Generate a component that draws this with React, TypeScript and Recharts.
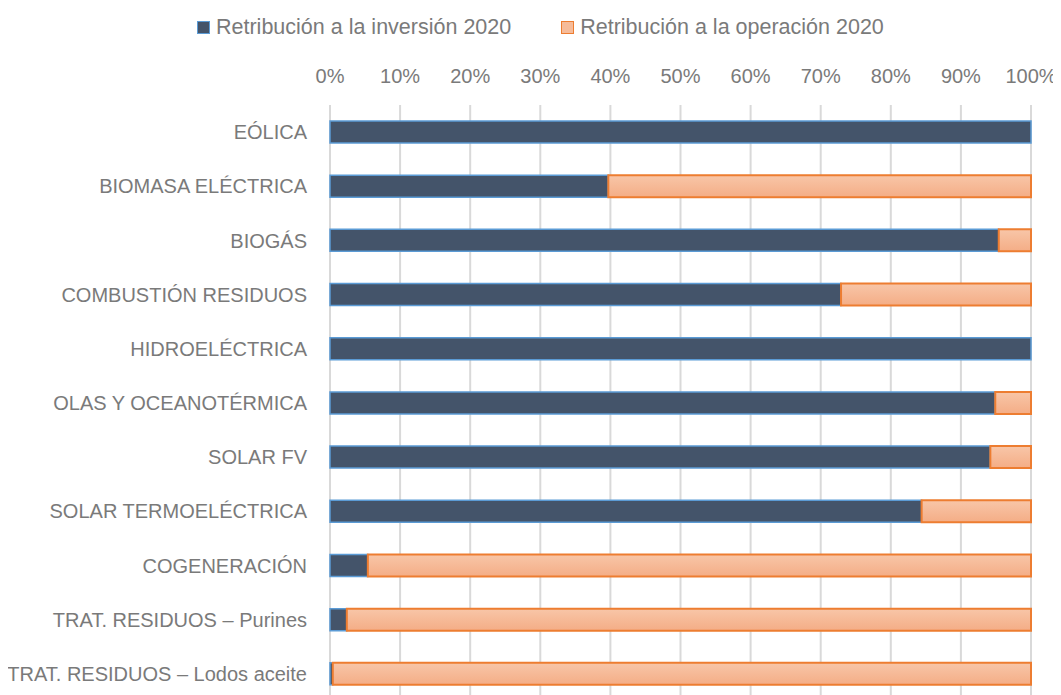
import React from "react";
import { BarChart, Bar, XAxis, YAxis, CartesianGrid } from "recharts";

const categories = [
  "EÓLICA",
  "BIOMASA ELÉCTRICA",
  "BIOGÁS",
  "COMBUSTIÓN RESIDUOS",
  "HIDROELÉCTRICA",
  "OLAS Y OCEANOTÉRMICA",
  "SOLAR FV",
  "SOLAR TERMOELÉCTRICA",
  "COGENERACIÓN",
  "TRAT. RESIDUOS – Purines",
  "TRAT. RESIDUOS – Lodos aceite",
];
const inversion = [100, 39.7, 95.4, 72.9, 100, 94.9, 94.2, 84.4, 5.4, 2.4, 0.4];
const operacion = [0, 60.3, 4.6, 27.1, 0, 5.1, 5.8, 15.6, 94.6, 97.6, 99.6];
const xTicks = [0, 10, 20, 30, 40, 50, 60, 70, 80, 90, 100];
const seriesNames = ["Retribución a la inversión 2020", "Retribución a la operación 2020"];

const data = categories.map((c, i) => ({ name: c, inv: inversion[i], op: operacion[i] }));

const FONT = "'Liberation Sans', Arial, sans-serif";
const GRAY = "#7A7A7A";

const Legend = () => (
  <div
    style={{
      position: "absolute",
      top: 7,
      left: 189,
      display: "flex",
      alignItems: "center",
      fontFamily: FONT,
      fontSize: 21.5,
      color: GRAY,
      whiteSpace: "nowrap",
    }}
  >
    <span style={{ display: "inline-block", width: 11, height: 11, background: "#44546A", border: "1.5px solid #5B9BD5", marginRight: 6 }} />
    <span>{seriesNames[0]}</span>
    <span style={{ display: "inline-block", width: 11, height: 11, background: "#F6BC9A", border: "1.5px solid #ED7D31", marginLeft: 50, marginRight: 6 }} />
    <span>{seriesNames[1]}</span>
  </div>
);

export default function App() {
  return (
    <div style={{ position: "relative", width: 1053, height: 700 }}>
      <Legend />
      <BarChart
        width={1053}
        height={700}
        data={data}
        layout="vertical"
        margin={{ top: 0, right: 30, bottom: 7, left: 0 }}
        barSize={22}
      >
        <defs>
          <linearGradient id="opGrad" x1="0" y1="0" x2="0" y2="1">
            <stop offset="0%" stopColor="#F8C6A8" />
            <stop offset="100%" stopColor="#F4AD86" />
          </linearGradient>
        </defs>
        <CartesianGrid horizontal={false} stroke="#D9D9D9" strokeWidth={2} />
        <XAxis
          type="number"
          orientation="top"
          domain={[0, 100]}
          ticks={xTicks}
          tickFormatter={(v) => `${v}%`}
          axisLine={false}
          tickLine={false}
          height={97}
          tickMargin={16}
          tick={{ fill: GRAY, fontSize: 20, fontFamily: FONT }}
          interval={0}
        />
        <YAxis
          type="category"
          dataKey="name"
          width={322}
          axisLine={false}
          tickLine={false}
          tickMargin={17}
          interval={0}
          tick={{ fill: GRAY, fontSize: 20, fontFamily: FONT }}
        />
        <Bar dataKey="inv" stackId="a" fill="#44546A" stroke="#5B9BD5" strokeWidth={1.5} isAnimationActive={false} />
        <Bar dataKey="op" stackId="a" fill="url(#opGrad)" stroke="#ED7D31" strokeWidth={2} isAnimationActive={false} />
      </BarChart>
    </div>
  );
}
